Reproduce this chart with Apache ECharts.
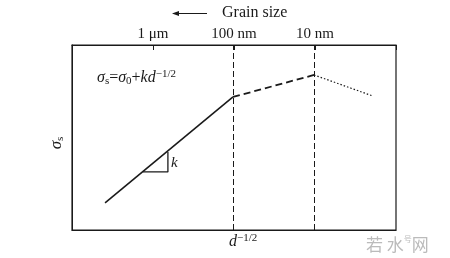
<!DOCTYPE html>
<html><head><meta charset="utf-8">
<script src="https://cdn.jsdelivr.net/npm/echarts@6/dist/echarts.min.js"></script>
<style>html,body{margin:0;padding:0;background:#fff}#c{width:450px;height:258px}</style>
</head><body><div id="c"></div>
<script>
// Data (abstract units, x: d^-1/2, y: sigma_s)
const hallPetchX = [1.02, 4.97];
const hallPetchY = [1.46, 7.19];
const dashedX = [4.97, 7.47];
const dashedY = [7.19, 8.38];
const dottedX = [7.47, 9.29];
const dottedY = [8.38, 7.24];
const triangleX = [2.19, 2.96, 2.96];
const triangleY = [3.14, 3.14, 4.22];
const boundaryX = [4.97, 7.47];
const topTickValues = [2.5, 5, 7.5];
const topTickLabels = ['1 μm', '100 nm', '10 nm'];

const pair = (xs, ys) => xs.map((x, i) => [x, ys[i]]);
const ink = '#1a1a1a';
const serif = '"Liberation Serif","DejaVu Serif",serif';

const chart = echarts.init(document.getElementById('c'));
chart.setOption({
  animation: false,
  grid: { left: 72, right: 54, top: 45, bottom: 28, show: true, borderColor: ink, borderWidth: 1.2 },
  xAxis: [
    { type: 'value', min: 0, max: 10, position: 'bottom',
      axisLine: { lineStyle: { color: ink } }, axisTick: { show: false },
      axisLabel: { show: false }, splitLine: { show: false } },
    { type: 'value', min: 0, max: 10, interval: 2.5, position: 'top',
      axisLine: { lineStyle: { color: ink } },
      axisTick: { inside: true, length: 5, lineStyle: { color: ink } },
      axisLabel: { margin: 3, color: ink, fontFamily: serif, fontSize: 15,
        formatter: v => { const i = topTickValues.indexOf(v); return i >= 0 ? topTickLabels[i] : ''; } },
      splitLine: { show: false } }
  ],
  yAxis: { type: 'value', min: 0, max: 10, axisLine: { show: true, lineStyle: { color: ink } },
    axisTick: { show: false }, axisLabel: { show: false }, splitLine: { show: false } },
  series: [
    { type: 'line', data: pair(hallPetchX, hallPetchY), symbol: 'none', lineStyle: { color: ink, width: 1.6 },
      markLine: { symbol: 'none', silent: true, label: { show: false },
        lineStyle: { color: ink, type: [6, 3], width: 1 },
        data: boundaryX.map(x => ({ xAxis: x })) } },
    { type: 'line', data: pair(dashedX, dashedY), symbol: 'none', lineStyle: { color: ink, width: 1.8, type: [7, 4] } },
    { type: 'line', data: pair(dottedX, dottedY), symbol: 'none', lineStyle: { color: ink, width: 1.2, type: [1.5, 2] } },
    { type: 'line', data: pair(triangleX, triangleY), symbol: 'none', lineStyle: { color: ink, width: 1.3 } }
  ],
  graphic: [
    { type: 'line', shape: { x1: 174, y1: 13.5, x2: 207, y2: 13.5 }, style: { stroke: ink, lineWidth: 1 } },
    { type: 'polygon', shape: { points: [[172, 13.5], [179, 11], [179, 16]] }, style: { fill: ink } },
    { type: 'text', left: 222, top: 5, style: { text: 'Grain size', font: '16px ' + serif, fill: ink } },
    { type: 'text', left: 97, top: 69, style: {
        rich: {
          i: { fontFamily: serif, fontStyle: 'italic', fontSize: 16, fill: ink, lineHeight: 18 },
          n: { fontFamily: serif, fontSize: 16, fill: ink, lineHeight: 18 },
          sub: { fontFamily: serif, fontSize: 11, fill: ink, lineHeight: 10, verticalAlign: 'bottom' },
          sup: { fontFamily: serif, fontSize: 11, fill: ink, lineHeight: 10, verticalAlign: 'top' }
        },
        text: '{i|σ}{sub|s}{n|=}{i|σ}{sub|0}{n|+}{i|kd}{sup|−1/2}'
      } },
    { type: 'text', left: 171, top: 156, style: { text: 'k', font: 'italic 15px ' + serif, fill: ink } },
    { type: 'text', x: 57, y: 143, rotation: Math.PI / 2, style: {
        rich: {
          i: { fontFamily: serif, fontStyle: 'italic', fontSize: 17, fill: ink, lineHeight: 18 },
          sub: { fontFamily: serif, fontSize: 11, fill: ink, lineHeight: 10, verticalAlign: 'bottom' }
        },
        text: '{i|σ}{sub|s}', align: 'center', verticalAlign: 'middle'
      } },
    { type: 'text', left: 229, top: 233, style: {
        rich: {
          i: { fontFamily: serif, fontStyle: 'italic', fontSize: 16, fill: ink, lineHeight: 18 },
          sup: { fontFamily: serif, fontSize: 11, fill: ink, lineHeight: 10, verticalAlign: 'top' }
        },
        text: '{i|d}{sup|−1/2}'
      } },
    { type: 'text', left: 366, top: 235, style: {
        rich: {
          w: { fontFamily: '"Noto Sans CJK SC"', fontSize: 17, fill: '#bbbbbb', lineHeight: 20 },
          s: { fontFamily: '"Noto Sans CJK SC"', fontSize: 8, fill: '#bbbbbb', lineHeight: 10, verticalAlign: 'top' }
        },
        text: '{w|若 水}{s|号}{w|网}'
      } }
  ]
});
</script></body></html>
